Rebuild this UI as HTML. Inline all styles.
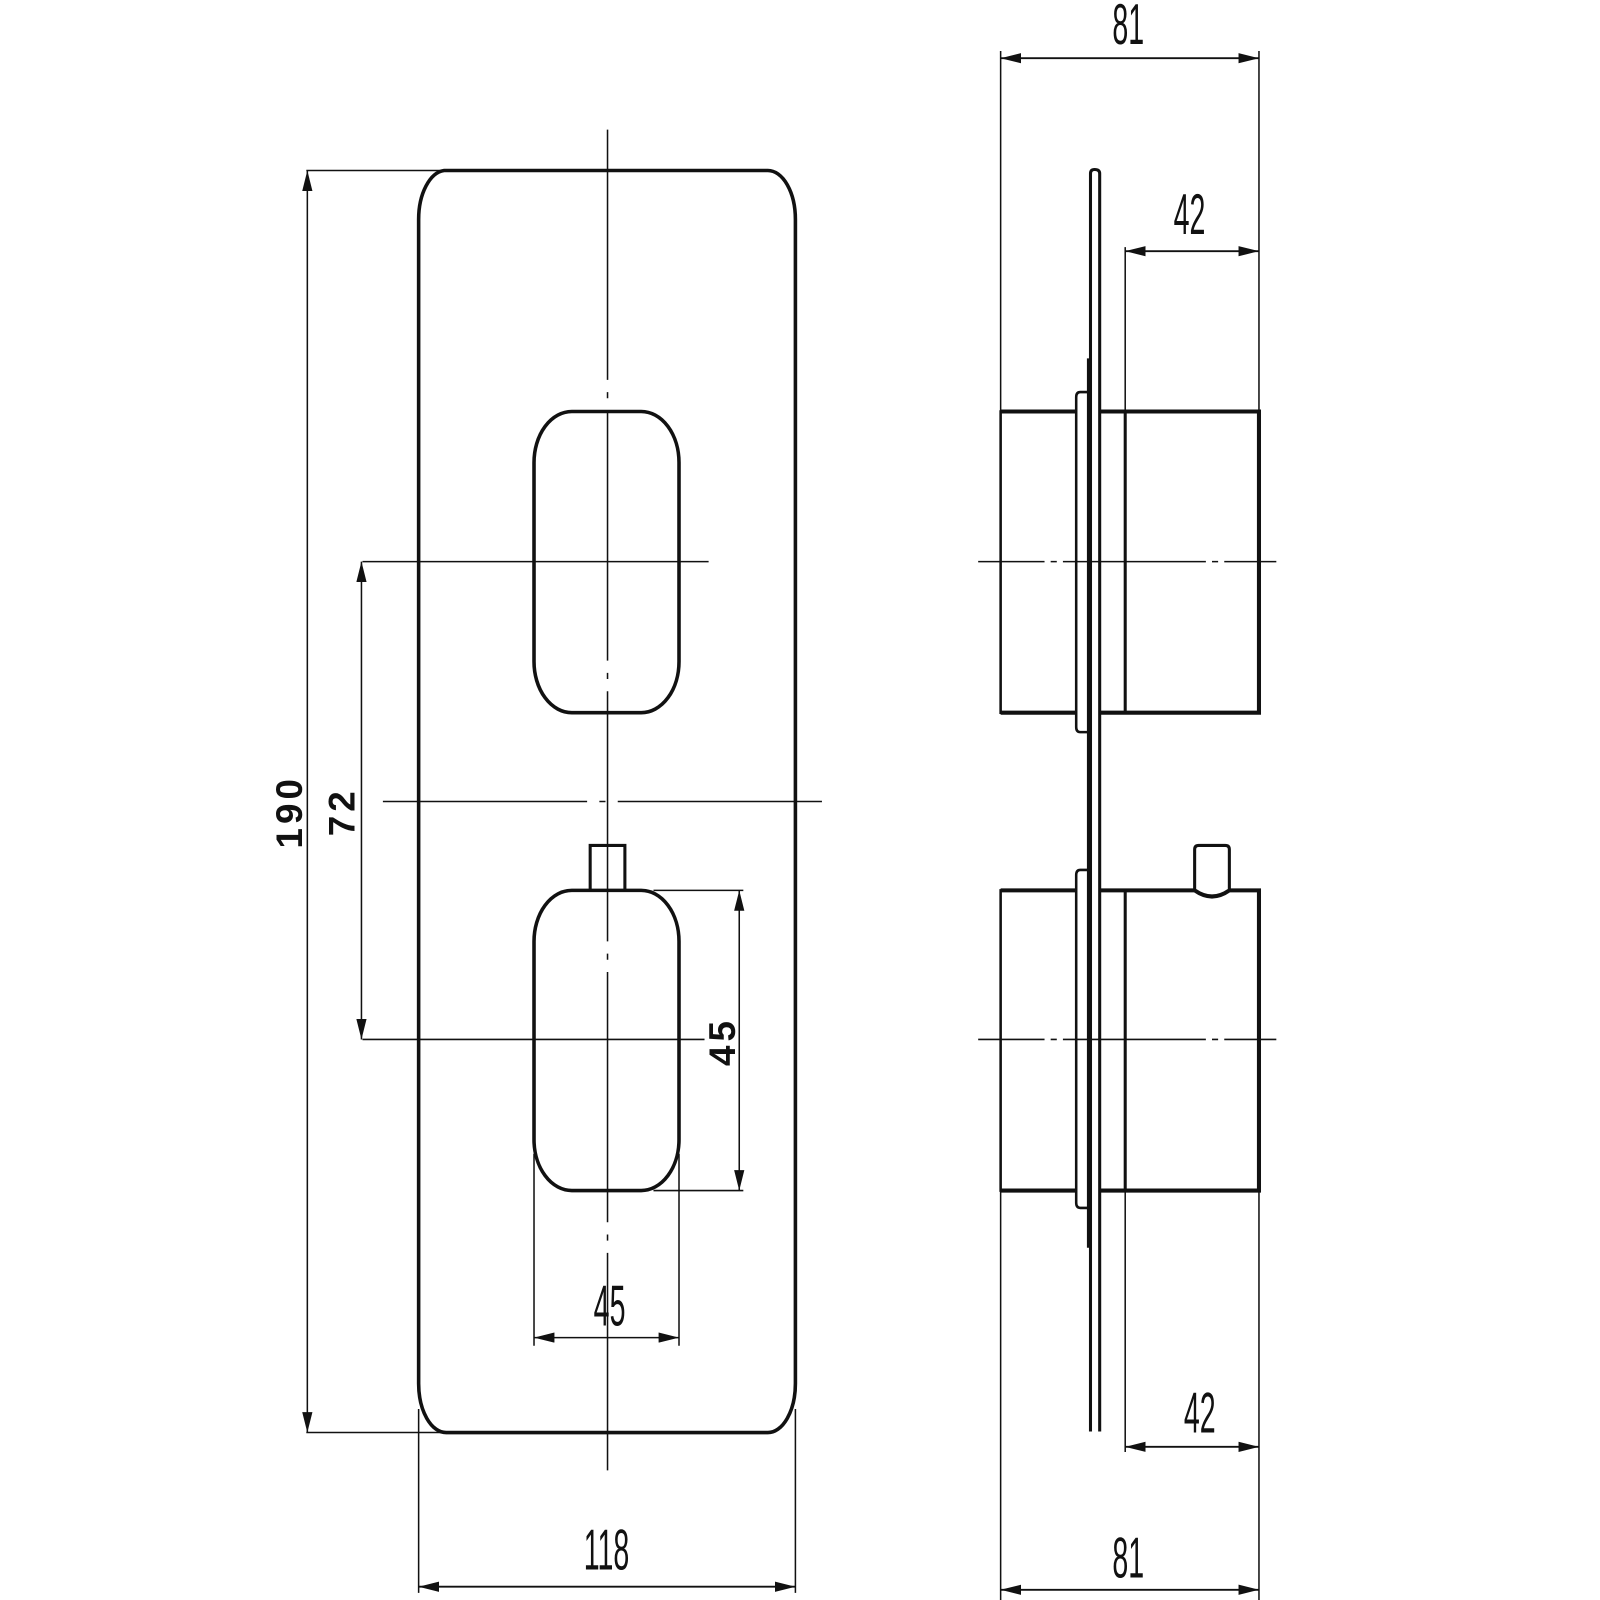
<!DOCTYPE html>
<html><head><meta charset="utf-8"><style>html,body{margin:0;padding:0;background:#fff}svg{display:block}</style></head>
<body>
<svg width="1600" height="1600" viewBox="0 0 1567 1567" xmlns="http://www.w3.org/2000/svg">
<defs>
<marker id="a" viewBox="0 0 20 10" refX="20" refY="5" markerWidth="20" markerHeight="10" markerUnits="userSpaceOnUse" orient="auto-start-reverse"><path d="M0,0 L20,5 L0,10 z" fill="#111"/></marker>
</defs>
<g fill="none" stroke="#111" stroke-linecap="butt">
<path d="M435,167 H752 A27,48 0 0 1 779,215 V1355 A27,48 0 0 1 752,1403 H437 A27,48 0 0 1 410,1355 V215 A27,48 0 0 1 435,167 Z" stroke-width="3.5"/>
<path d="M560,403 H628 A37,50 0 0 1 665,453 V648 A37,50 0 0 1 628,698 H560 A37,50 0 0 1 523,648 V453 A37,50 0 0 1 560,403 Z" stroke-width="3.5"/>
<path d="M560,872 H628 A37,50 0 0 1 665,922 V1116 A37,50 0 0 1 628,1166 H560 A37,50 0 0 1 523,1116 V922 A37,50 0 0 1 560,872 Z" stroke-width="3.5"/>
<path d="M578,872 V828 H612 V872" stroke-width="3"/>
<line x1="595" y1="127" x2="595" y2="1440" stroke-width="1.5" stroke-dasharray="245,12,6,12"/>
<line x1="355" y1="550" x2="694" y2="550" stroke-width="1.5"/>
<line x1="375" y1="785" x2="815" y2="785" stroke-width="1.5" stroke-dasharray="200,12,6,12"/>
<line x1="355" y1="1018" x2="690" y2="1018" stroke-width="1.5"/>
<line x1="300" y1="167" x2="435" y2="167" stroke-width="1.5"/>
<line x1="300" y1="1403" x2="437" y2="1403" stroke-width="1.5"/>
<line x1="301" y1="167" x2="301" y2="1403" stroke-width="1.5" marker-start="url(#a)" marker-end="url(#a)"/>
<line x1="354" y1="550" x2="354" y2="1018" stroke-width="1.5" marker-start="url(#a)" marker-end="url(#a)"/>
<line x1="640" y1="872" x2="728" y2="872" stroke-width="1.5"/>
<line x1="640" y1="1166" x2="728" y2="1166" stroke-width="1.5"/>
<line x1="724" y1="872" x2="724" y2="1166" stroke-width="1.5" marker-start="url(#a)" marker-end="url(#a)"/>
<line x1="523" y1="1130" x2="523" y2="1318" stroke-width="1.5"/>
<line x1="665" y1="1130" x2="665" y2="1318" stroke-width="1.5"/>
<line x1="523" y1="1310" x2="665" y2="1310" stroke-width="1.5" marker-start="url(#a)" marker-end="url(#a)"/>
<line x1="410" y1="1380" x2="410" y2="1560" stroke-width="1.5"/>
<line x1="779" y1="1380" x2="779" y2="1560" stroke-width="1.5"/>
<line x1="410" y1="1554" x2="779" y2="1554" stroke-width="1.8" marker-start="url(#a)" marker-end="url(#a)"/>

<path d="M1068,1402 V170 Q1068,166 1072,166 Q1077,166 1077,170 V1402" stroke-width="3"/>
<line x1="1066" y1="351" x2="1066" y2="1222" stroke-width="3"/>
<path d="M1066,384 H1058 Q1054,384 1054,389 V712 Q1054,717 1058,717 H1066" stroke-width="2.5"/>
<path d="M1054,403 H980 V698 H1054" stroke-width="2.5"/>
<line x1="980" y1="403" x2="1054" y2="403" stroke-width="4"/>
<line x1="980" y1="698" x2="1054" y2="698" stroke-width="4"/>
<path d="M1077,403 H1233 V698 H1077" stroke-width="4"/>
<line x1="1102" y1="403" x2="1102" y2="698" stroke-width="3"/>
<path d="M1066,852 H1058 Q1054,852 1054,857 V1178 Q1054,1183 1058,1183 H1066" stroke-width="2.5"/>
<path d="M1054,872 H980 V1166 H1054" stroke-width="2.5"/>
<line x1="980" y1="872" x2="1054" y2="872" stroke-width="4"/>
<line x1="980" y1="1166" x2="1054" y2="1166" stroke-width="4"/>
<path d="M1077,872 H1170 Q1187,884 1204,872 H1233 V1166 H1077" stroke-width="4"/>
<line x1="1102" y1="872" x2="1102" y2="1166" stroke-width="3"/>
<path d="M1170,872 V832 Q1170,828 1174,828 H1200 Q1204,828 1204,832 V872" stroke-width="3"/>
<line x1="958" y1="550" x2="1250" y2="550" stroke-width="1.5" stroke-dasharray="65,6,6,6,140,6,6,6,200"/>
<line x1="958" y1="1018" x2="1250" y2="1018" stroke-width="1.5" stroke-dasharray="65,6,6,6,140,6,6,6,200"/>
<line x1="980" y1="50" x2="980" y2="403" stroke-width="1.5"/>
<line x1="1233" y1="50" x2="1233" y2="403" stroke-width="1.5"/>
<line x1="980" y1="57" x2="1233" y2="57" stroke-width="1.8" marker-start="url(#a)" marker-end="url(#a)"/>
<line x1="1102" y1="242" x2="1102" y2="403" stroke-width="1.5"/>
<line x1="1102" y1="246" x2="1233" y2="246" stroke-width="1.8" marker-start="url(#a)" marker-end="url(#a)"/>
<line x1="980" y1="1166" x2="980" y2="1567" stroke-width="1.5"/>
<line x1="1233" y1="1166" x2="1233" y2="1567" stroke-width="1.5"/>
<line x1="1102" y1="1166" x2="1102" y2="1422" stroke-width="1.5"/>
<line x1="1102" y1="1417" x2="1233" y2="1417" stroke-width="1.8" marker-start="url(#a)" marker-end="url(#a)"/>
<line x1="980" y1="1557" x2="1233" y2="1557" stroke-width="1.8" marker-start="url(#a)" marker-end="url(#a)"/>
</g>
<g font-family="Liberation Sans, sans-serif" fill="#111" font-size="56" text-anchor="middle">
<text transform="translate(1105,43) scale(0.5,1)">81</text>
<text transform="translate(1165,229) scale(0.5,1)">42</text>
<text transform="translate(1175,1403) scale(0.5,1)">42</text>
<text transform="translate(1105,1545) scale(0.5,1)">81</text>
<text transform="translate(594,1537) scale(0.5,1)">118</text>
<text transform="translate(597,1298) scale(0.5,1)">45</text>
<text transform="translate(296,795) rotate(-90)" font-size="36" font-weight="bold" letter-spacing="4">190</text>
<text transform="translate(347,795) rotate(-90)" font-size="36" font-weight="bold" letter-spacing="4">72</text>
<text transform="translate(720,1020) rotate(-90)" font-size="36" font-weight="bold" letter-spacing="4">45</text>
</g>
</svg>
</body></html>
